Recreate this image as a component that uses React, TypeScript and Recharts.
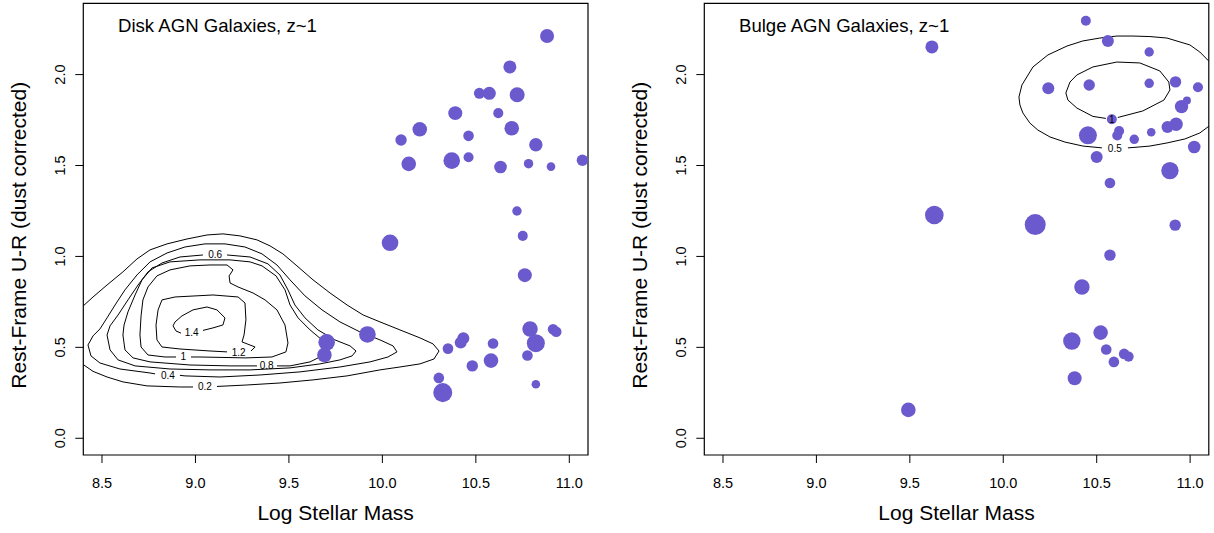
import React from 'react';
import { ComposedChart, XAxis, YAxis, Line, Scatter, ReferenceArea, Label } from 'recharts';

const FONT = '"Liberation Sans", Arial, Helvetica, sans-serif';
const POINT_COLOR = '#6a5acd';

const X_TICKS = [8.5, 9.0, 9.5, 10.0, 10.5, 11.0];
const Y_TICKS = [0, 0.5, 1.0, 1.5, 2.0];
const X_DOMAIN: [number, number] = [8.4, 11.1];
const Y_DOMAIN: [number, number] = [-0.092, 2.392];

const PANEL_TITLES = ['Disk AGN Galaxies, z~1', 'Bulge AGN Galaxies, z~1'];
const X_TITLE = 'Log Stellar Mass';
const Y_TITLE = 'Rest-Frame U-R (dust corrected)';

// ---- Disk AGN galaxies (left) ----
const diskMass = [10.881, 10.682, 10.519, 10.572, 10.721, 10.390, 10.620, 10.200, 10.692, 10.100, 10.461, 10.821, 10.141, 10.371, 10.461, 10.632, 10.782, 10.902, 11.070, 10.720, 10.751, 10.041, 10.762, 10.790, 10.913, 10.930, 10.821, 10.776, 10.821, 10.351, 10.433, 10.419, 10.592, 10.581, 10.481, 10.302, 10.323, 9.920, 9.702, 9.690];
const diskColor = [2.212, 2.042, 1.897, 1.897, 1.889, 1.788, 1.788, 1.699, 1.705, 1.640, 1.663, 1.614, 1.509, 1.527, 1.545, 1.492, 1.510, 1.494, 1.529, 1.250, 1.113, 1.075, 0.897, 0.601, 0.599, 0.586, 0.523, 0.455, 0.297, 0.493, 0.550, 0.526, 0.521, 0.427, 0.398, 0.332, 0.251, 0.571, 0.528, 0.458];
const diskWeight = [2.33, 2.17, 1.83, 2.17, 2.5, 2.33, 1.67, 2.43, 2.43, 1.9, 1.77, 2.23, 2.43, 2.77, 1.67, 2.1, 1.57, 1.43, 1.9, 1.57, 1.67, 2.77, 2.33, 2.57, 1.77, 1.77, 3.0, 1.77, 1.43, 1.77, 2.0, 2.0, 1.77, 2.43, 1.9, 1.77, 3.17, 2.77, 2.77, 2.43];

// ---- Bulge AGN galaxies (right) ----
const bulgeMass = [10.442, 10.560, 10.781, 10.241, 10.460, 10.781, 10.922, 11.042, 10.954, 10.983, 10.581, 10.453, 10.620, 10.610, 10.701, 10.792, 10.879, 10.925, 10.500, 11.022, 10.892, 10.571, 9.618, 9.631, 10.171, 10.920, 10.571, 10.421, 10.521, 10.367, 10.551, 10.647, 10.671, 10.592, 10.382, 9.492];
const bulgeColor = [2.296, 2.185, 2.124, 1.925, 1.943, 1.952, 1.960, 1.930, 1.824, 1.857, 1.754, 1.666, 1.690, 1.665, 1.644, 1.683, 1.712, 1.727, 1.547, 1.602, 1.472, 1.404, 2.152, 1.228, 1.175, 1.172, 1.007, 0.832, 0.581, 0.535, 0.488, 0.464, 0.449, 0.420, 0.330, 0.156];
const bulgeWeight = [1.67, 2.0, 1.57, 2.0, 1.9, 1.57, 1.9, 1.67, 2.23, 1.33, 1.67, 3.0, 1.67, 1.67, 1.57, 1.43, 2.0, 2.23, 2.0, 2.1, 2.9, 1.77, 2.17, 3.1, 3.5, 1.9, 1.9, 2.57, 2.43, 2.9, 1.77, 1.77, 1.67, 1.77, 2.33, 2.43];

type Pt = [number, number] | null;

// ---- Disk density contours (null = gap for the level label) ----
const diskContour02: Pt[] = [[8.400, 0.728], [8.452, 0.777], [8.527, 0.843], [8.612, 0.915], [8.687, 0.986], [8.757, 1.036], [8.848, 1.069], [8.955, 1.096], [9.062, 1.118], [9.147, 1.124], [9.238, 1.113], [9.329, 1.091], [9.399, 1.058], [9.468, 1.014], [9.543, 0.948], [9.629, 0.871], [9.720, 0.799], [9.811, 0.733], [9.897, 0.678], [9.987, 0.640], [10.094, 0.596], [10.201, 0.552], [10.271, 0.519], [10.303, 0.480], [10.276, 0.436], [10.201, 0.409], [10.094, 0.392], [9.987, 0.376], [9.811, 0.343], [9.629, 0.321], [9.452, 0.304], [9.275, 0.293], [9.115, 0.285], null, [8.987, 0.282], [8.918, 0.282], [8.741, 0.288], [8.612, 0.310], [8.527, 0.337], [8.452, 0.368], [8.400, 0.405]];
const diskContour04: Pt[] = [[8.489, 0.601], [8.452, 0.563], [8.425, 0.513], [8.441, 0.453], [8.489, 0.414], [8.596, 0.381], [8.757, 0.359], [8.784, 0.354], null, [8.917, 0.346], [8.944, 0.343], [9.131, 0.337], [9.345, 0.348], [9.559, 0.365], [9.773, 0.392], [9.934, 0.420], [10.030, 0.447], [10.078, 0.475], [10.057, 0.508], [9.987, 0.541], [9.880, 0.585], [9.773, 0.640], [9.677, 0.706], [9.586, 0.783], [9.506, 0.871], [9.436, 0.953], [9.356, 1.014], [9.265, 1.052], [9.158, 1.069], [9.051, 1.069], [8.944, 1.052], [8.848, 1.019], [8.757, 0.970], [8.687, 0.898], [8.623, 0.816], [8.570, 0.733], [8.527, 0.662], [8.489, 0.601]];
const diskContour06: Pt[] = [[8.527, 0.568], [8.543, 0.486], [8.586, 0.431], [8.677, 0.398], [8.864, 0.381], [9.078, 0.376], [9.292, 0.376], [9.506, 0.387], [9.666, 0.409], [9.773, 0.431], [9.838, 0.453], [9.859, 0.480], [9.827, 0.508], [9.746, 0.541], [9.655, 0.596], [9.586, 0.662], [9.532, 0.733], [9.495, 0.816], [9.452, 0.898], [9.388, 0.959], [9.292, 0.997], [9.169, 1.008], null, [9.040, 1.008], [8.917, 0.997], [8.821, 0.964], [8.746, 0.915], [8.693, 0.843], [8.639, 0.761], [8.586, 0.678], [8.543, 0.618], [8.527, 0.568]];
const diskContour08: Pt[] = [[8.612, 0.568], [8.623, 0.486], [8.666, 0.442], [8.757, 0.420], [8.971, 0.403], [9.185, 0.398], [9.329, 0.398], null, [9.436, 0.398], [9.506, 0.398], [9.613, 0.420], [9.677, 0.453], [9.704, 0.497], [9.677, 0.541], [9.613, 0.596], [9.549, 0.662], [9.506, 0.733], [9.479, 0.816], [9.431, 0.893], [9.356, 0.948], [9.292, 0.970], [9.185, 0.981], [9.024, 0.981], [8.864, 0.970], [8.768, 0.937], [8.714, 0.871], [8.677, 0.788], [8.639, 0.695], [8.618, 0.623], [8.612, 0.568]];
const diskContour10: Pt[] = [[8.709, 0.673], [8.703, 0.568], [8.709, 0.502], [8.746, 0.458], [8.837, 0.447], [8.896, 0.447], null, [8.976, 0.447], [9.024, 0.447], [9.270, 0.442], [9.409, 0.447], [9.484, 0.475], [9.495, 0.524], [9.479, 0.623], [9.436, 0.706], [9.372, 0.761], [9.308, 0.799], [9.228, 0.832], [9.185, 0.854], [9.180, 0.893], [9.201, 0.926], [9.169, 0.953], [9.078, 0.953], [8.971, 0.948], [8.864, 0.926], [8.794, 0.893], [8.746, 0.832], [8.719, 0.761], [8.709, 0.673]];
const diskContour12: Pt[] = [[8.800, 0.706], [8.821, 0.761], [8.891, 0.777], [9.094, 0.788], [9.228, 0.777], [9.265, 0.744], [9.270, 0.651], [9.260, 0.568], [9.249, 0.530], [9.319, 0.502], [9.297, 0.480], null, [9.169, 0.475], [9.078, 0.480], [8.917, 0.491], [8.821, 0.502], [8.794, 0.541], [8.789, 0.623], [8.800, 0.706]];
const diskContour14: Pt[] = [[8.891, 0.640], [8.928, 0.673], [8.987, 0.706], [9.062, 0.722], [9.115, 0.706], [9.158, 0.662], [9.147, 0.623], [9.094, 0.607], [9.040, 0.593], null, [8.923, 0.578], [8.896, 0.590], [8.880, 0.618], [8.891, 0.640]];

const diskLabelText = ['0.2', '0.4', '0.6', '0.8', '1', '1.2', '1.4'];
const diskLabelX = [9.051, 8.853, 9.105, 9.381, 8.935, 9.231, 8.980];
const diskLabelY = [0.284, 0.343, 1.008, 0.400, 0.449, 0.473, 0.582];

// ---- Bulge density contours ----
const bulgeContour05: Pt[] = [[10.084, 1.877], [10.100, 1.943], [10.159, 2.042], [10.239, 2.108], [10.341, 2.157], [10.426, 2.185], [10.517, 2.201], [10.608, 2.212], [10.694, 2.212], [10.785, 2.209], [10.876, 2.201], [10.999, 2.163], [11.052, 2.124], [11.105, 2.069], [11.148, 1.998], [11.164, 1.904], [11.153, 1.816], [11.116, 1.728], [11.052, 1.679], [10.972, 1.646], [10.876, 1.624], [10.785, 1.607], [10.694, 1.599], [10.667, 1.597], null, [10.528, 1.597], [10.426, 1.607], [10.330, 1.629], [10.250, 1.657], [10.185, 1.695], [10.142, 1.734], [10.105, 1.789], [10.089, 1.833], [10.084, 1.877]];
const bulgeContour1: Pt[] = [[10.335, 1.899], [10.357, 1.959], [10.394, 1.998], [10.480, 2.042], [10.608, 2.069], [10.731, 2.064], [10.838, 2.020], [10.886, 1.959], [10.892, 1.915], [10.860, 1.860], [10.747, 1.800], [10.624, 1.767], [10.613, 1.764], null, [10.549, 1.759], [10.480, 1.770], [10.394, 1.816], [10.346, 1.860], [10.335, 1.899]];

const bulgeLabelText = ['0.5', '1'];
const bulgeLabelX = [10.597, 10.581];
const bulgeLabelY = [1.596, 1.754];

// ---- helpers ----
const toRows = (pts: Pt[]) => {
  let lastX = 0;
  return pts.map((p) => {
    if (p === null) return { x: lastX, y: null as number | null };
    lastX = p[0];
    return { x: p[0], y: p[1] as number | null };
  });
};
const pointsOf = (xs: number[], ys: number[], ws: number[]) => xs.map((x, i) => ({ x, y: ys[i], w: ws[i] }));
const labelsOf = (t: string[], xs: number[], ys: number[]) => t.map((label, i) => ({ x: xs[i], y: ys[i], label }));

const DOT_SCALE = 3;

const renderDot = (props: any) => {
  const { cx, cy, payload } = props;
  if (cx == null || cy == null || !payload) return <g />;
  return <circle cx={cx} cy={cy} r={payload.w * DOT_SCALE} fill={POINT_COLOR} />;
};

const renderContourLabel = (props: any) => {
  const { cx, cy, payload } = props;
  if (cx == null || cy == null || !payload) return <g />;
  return (
    <text x={cx} y={cy} dy="0.35em" textAnchor="middle" fontSize={10} fontFamily={FONT} fill="#000">
      {payload.label}
    </text>
  );
};

const YTick = (props: any) => {
  const { x, y, payload } = props;
  return (
    <text x={x} y={y} transform={`rotate(-90, ${x}, ${y})`} textAnchor="middle" fontSize={14.5} fontFamily={FONT} fill="#000">
      {Number(payload.value).toFixed(1)}
    </text>
  );
};

const PLOT_LEFT = 83.3;

interface PanelProps {
  title: string;
  points: { x: number; y: number; w: number }[];
  contours: Pt[][];
  labels: { x: number; y: number; label: string }[];
  width: number;
  marginRight: number;
}

function Panel({ title, points, contours, labels, width, marginRight }: PanelProps) {
  return (
    <ComposedChart
      width={width}
      height={533}
      margin={{ top: 3.3, right: marginRight, bottom: 28, left: PLOT_LEFT - 60 }}
    >
      <XAxis
        type="number"
        dataKey="x"
        domain={X_DOMAIN}
        ticks={X_TICKS}
        interval={0}
        allowDataOverflow
        axisLine={false}
        tickLine={{ stroke: '#000', strokeWidth: 1 }}
        tickSize={8}
        tickMargin={15}
        height={50}
        tick={{ fontSize: 14.5, fill: '#000', fontFamily: FONT }}
        tickFormatter={(v: number) => v.toFixed(1)}
      />
      <YAxis
        type="number"
        dataKey="y"
        domain={Y_DOMAIN}
        ticks={Y_TICKS}
        interval={0}
        allowDataOverflow
        axisLine={false}
        tickLine={{ stroke: '#000', strokeWidth: 1 }}
        tickSize={8}
        tickMargin={10}
        width={60}
        tick={(p: any) => <YTick {...p} />}
      />
      {contours.map((c, i) => (
        <Line
          key={`c${i}`}
          data={toRows(c)}
          dataKey="y"
          type="linear"
          stroke="#000"
          strokeWidth={1}
          dot={false}
          activeDot={false}
          connectNulls={false}
          isAnimationActive={false}
          legendType="none"
        />
      ))}
      <Scatter data={points} shape={renderDot} isAnimationActive={false} legendType="none" />
      <Scatter data={labels} shape={renderContourLabel} isAnimationActive={false} legendType="none" />
      <ReferenceArea
        x1={X_DOMAIN[0]}
        x2={X_DOMAIN[1]}
        y1={Y_DOMAIN[0]}
        y2={Y_DOMAIN[1]}
        fill="none"
        fillOpacity={0}
        stroke="#000"
        strokeWidth={1.2}
        strokeOpacity={1}
        ifOverflow="visible"
      >
        <Label
          content={(p: any) => {
            const vb = p.viewBox || { x: PLOT_LEFT, y: 3.3, width: 504.7, height: 451.7 };
            return (
              <g>
                <text x={vb.x + 34.7} y={vb.y + 28.4} fontSize={18.6} fontFamily={FONT} fill="#000">
                  {title}
                </text>
                <text
                  x={vb.x + vb.width / 2}
                  y={vb.y + vb.height + 65}
                  textAnchor="middle"
                  fontSize={21}
                  fontFamily={FONT}
                  fill="#000"
                >
                  {X_TITLE}
                </text>
                <text
                  x={vb.x - 57.6}
                  y={vb.y + 232}
                  transform={`rotate(-90, ${vb.x - 57.6}, ${vb.y + 232})`}
                  textAnchor="middle"
                  fontSize={21}
                  fontFamily={FONT}
                  fill="#000"
                >
                  {Y_TITLE}
                </text>
              </g>
            );
          }}
        />
      </ReferenceArea>
    </ComposedChart>
  );
}

export default function App() {
  const diskPoints = pointsOf(diskMass, diskColor, diskWeight);
  const bulgePoints = pointsOf(bulgeMass, bulgeColor, bulgeWeight);
  const diskLabels = labelsOf(diskLabelText, diskLabelX, diskLabelY);
  const bulgeLabels = labelsOf(bulgeLabelText, bulgeLabelX, bulgeLabelY);
  return (
    <div style={{ position: 'absolute', left: 0, top: 0, width: 1214, height: 533, background: '#fff', display: 'flex' }}>
      <Panel
        title={PANEL_TITLES[0]}
        points={diskPoints}
        contours={[diskContour02, diskContour04, diskContour06, diskContour08, diskContour10, diskContour12, diskContour14]}
        labels={diskLabels}
        width={621}
        marginRight={33}
      />
      <Panel
        title={PANEL_TITLES[1]}
        points={bulgePoints}
        contours={[bulgeContour05, bulgeContour1]}
        labels={bulgeLabels}
        width={593}
        marginRight={5.2}
      />
    </div>
  );
}
